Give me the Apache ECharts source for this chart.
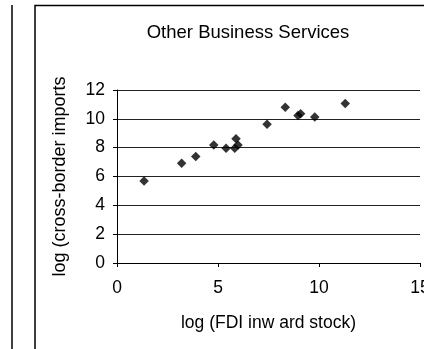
<!DOCTYPE html>
<html><head><meta charset="utf-8">
<script src="https://cdn.jsdelivr.net/npm/echarts@6/dist/echarts.min.js"></script>
<style>html,body{margin:0;padding:0;background:#fff}#c{width:424px;height:349px}</style>
</head><body><div id="c"></div>
<script>
const titleText = "Other Business Services";
const xName = "log (FDI inw ard stock)";
const yName = "log (cross-border imports";
const fdiStock = [1.34, 3.2, 3.9, 4.79, 5.4, 5.83, 5.89, 5.99, 7.43, 8.33, 8.96, 9.09, 9.79, 11.3];
const imports  = [5.69, 6.92, 7.38, 8.19, 7.96, 7.96, 8.61, 8.19, 9.63, 10.81, 10.23, 10.35, 10.12, 11.06];
const points = fdiStock.map((x, i) => [x, imports[i]]);
const font = "'Liberation Sans', Arial, sans-serif";
const chart = echarts.init(document.getElementById('c'), null, {renderer: 'canvas'});
chart.setOption({
  animation: false,
  backgroundColor: '#fff',
  title: {
    text: titleText, left: 243, top: 18, textAlign: 'center',
    textStyle: {fontFamily: font, fontSize: 18.5, fontWeight: 'normal', color: '#000'}
  },
  grid: {left: 117, right: 4, top: 90, bottom: 86, containLabel: false, outerBoundsMode: 'none'},
  xAxis: {
    type: 'value', min: 0, max: 15, interval: 5,
    name: xName, nameLocation: 'middle', nameGap: 51,
    nameTextStyle: {fontFamily: font, fontSize: 17.5, color: '#000'},
    axisLine: {show: true, onZero: false, lineStyle: {color: '#000', width: 1}},
    axisTick: {show: true, inside: false, length: 4, lineStyle: {color: '#000'}},
    axisLabel: {fontFamily: font, fontSize: 17.5, color: '#000', margin: 16, showMaxLabel: true},
    splitLine: {show: false}
  },
  yAxis: {
    type: 'value', min: 0, max: 12, interval: 2,
    name: yName, nameLocation: 'middle', nameGap: 48,
    nameTextStyle: {fontFamily: font, fontSize: 18, color: '#000'},
    axisLine: {show: true, lineStyle: {color: '#000', width: 1}},
    axisTick: {show: true, inside: false, length: 4, lineStyle: {color: '#000'}},
    axisLabel: {fontFamily: font, fontSize: 17.5, color: '#000', margin: 12},
    splitLine: {show: true, lineStyle: {color: '#222', width: 1}}
  },
  graphic: [
    {type: 'line', shape: {x1: 12, y1: 5, x2: 12, y2: 349}, style: {stroke: '#000', lineWidth: 1.5}},
    {type: 'polyline', shape: {points: [[35, 349], [35, 5.5], [424, 5.5]]}, style: {stroke: '#000', lineWidth: 1.5, fill: null}}
  ],
  series: [{
    type: 'scatter', data: points, symbol: 'diamond', symbolSize: [9.5, 9.5],
    itemStyle: {color: '#000'}
  }]
});
</script></body></html>
